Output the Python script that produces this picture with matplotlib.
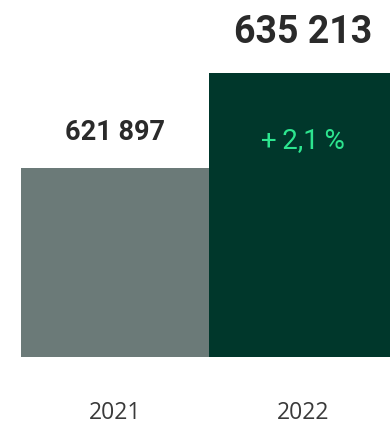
import matplotlib
matplotlib.use("Agg")
import matplotlib.pyplot as plt

years = ["2021", "2022"]
values = [621897, 635213]
change_label = "+\u20092,1\u2009%"
value_labels = ["621 897", "635 213"]

bar_colors = ["#6b7a78", "#00372b"]
text_dark = "#2a2a2a"
accent = "#2de58f"

fig = plt.figure(figsize=(3.9, 4.24), dpi=100)
ax = fig.add_axes([21 / 390, 1 - 356.7 / 424, 376 / 390, 356.7 / 424])

x = list(range(len(values)))
bars = ax.bar(x, values, width=1.0, color=bar_colors, linewidth=0)

ax.set_xlim(-0.5, 1.5)
ax.set_ylim(595447, 645445)

for s in ax.spines.values():
    s.set_visible(False)
ax.set_yticks([])
ax.set_xticks([])

# year labels under the bars
for xi, yr in zip(x, years):
    ax.annotate(yr, (xi, 0), xycoords=("data", "axes fraction"),
                xytext=(0, -56), textcoords="offset pixels",
                ha="center", va="center", fontfamily="Open Sans",
                fontweight="normal", fontsize=16.5, color="#3a3a3a")

# value labels above the bars
ax.annotate(value_labels[0], (x[0], values[0]), xytext=(0, 35),
            textcoords="offset pixels", ha="center", va="center",
            fontfamily="Roboto", fontweight="bold", fontsize=19.5, color=text_dark)
ax.annotate(value_labels[1], (x[1], values[1]), xytext=(0, 40),
            textcoords="offset pixels", ha="center", va="center",
            fontfamily="Roboto", fontweight="bold", fontsize=27, color=text_dark)

# growth inside the 2022 bar
ax.annotate(change_label, (x[1], values[1]), xytext=(0, -68),
            textcoords="offset pixels", ha="center", va="center",
            fontfamily=["Roboto", "DejaVu Sans"], fontweight="normal",
            fontsize=20, color=accent)

fig.savefig("out.png", dpi=100)
